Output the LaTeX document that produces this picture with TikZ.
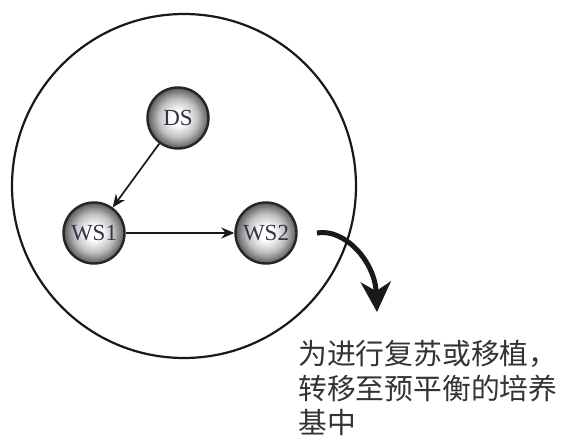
\documentclass[tikz,border=0pt]{standalone}
\usepackage{fontspec}
\setmainfont{Liberation Serif}
\newfontfamily\cjk{Noto Sans CJK SC}
\usetikzlibrary{arrows.meta}
\pgfdeclareradialshading{sphshade}{\pgfpoint{0bp}{0bp}}{%
  color(0bp)=(white); color(6bp)=(white); color(16bp)=(black!25);
  color(25bp)=(black!65); color(50bp)=(black!65)}
\tikzset{
  sphere/.style={circle, minimum size=61pt, inner sep=0pt, draw=black!85,
    line width=2.4pt, shading=sphshade, text=black!85!blue!60!gray,
    font=\fontsize{23}{23}\selectfont},
  thinarrow/.style={line width=1.7pt, draw=black!90, -{Stealth[length=13pt,width=11pt]}},
  bigarrow/.style={line width=5pt, draw=black!90, -{Stealth[length=30pt,width=30pt,inset=9pt]}},
  caption/.style={font=\cjk\fontsize{28.8}{34.5}\selectfont, align=left, text=black!80,
    inner sep=0pt, anchor=north west}
}
\begin{document}
\begin{tikzpicture}[x=1pt,y=-1pt]
\useasboundingbox[fill=white] (0,0) rectangle (563,442);
\node[circle, draw=black!90, line width=2.2pt, minimum size=344pt, inner sep=0pt] (dish) at (184,186) {};
\node[sphere] (ds) at (178,118) {DS};
\node[sphere] (ws1) at (94,233) {WS1};
\node[sphere] (ws2) at (266,233) {WS2};
\draw[thinarrow] (ds) -- (ws1);
\draw[thinarrow] (ws1) -- (ws2);
\coordinate (cstart) at (317,233);
\coordinate (cend) at (377,312);
\draw[bigarrow] (cstart) .. controls (345,228) and (375,262) .. (cend);
\node[caption] (txt) at (298,340) {为进行复苏或移植，\\转移至预平衡的培养\\基中};
\end{tikzpicture}
\end{document}
